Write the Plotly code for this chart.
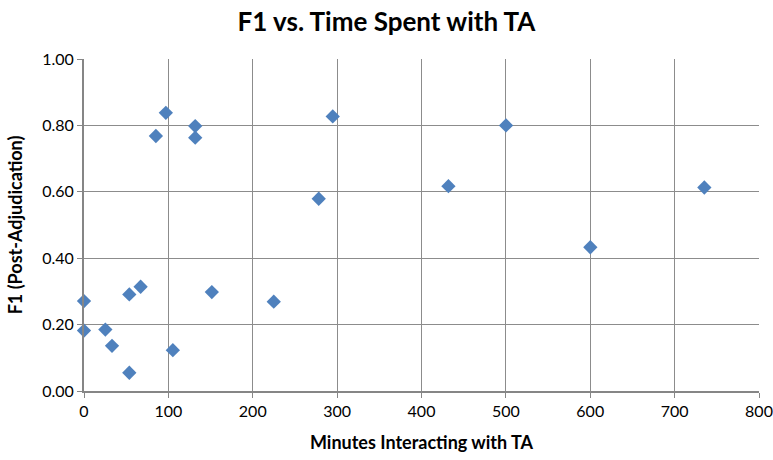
import plotly.graph_objects as go

minutes = [0, 0, 25.3, 33.2, 53.7, 53.7, 67.1, 85.2, 97.0, 105.3, 131.8, 131.8,
           151.5, 224.9, 278.2, 294.8, 431.9, 500.2, 600.1, 735.2]
f1 = [0.271, 0.182, 0.185, 0.136, 0.055, 0.291, 0.314, 0.768, 0.838, 0.123, 0.798, 0.763,
      0.298, 0.269, 0.579, 0.827, 0.617, 0.800, 0.433, 0.613]

x_ticks = [0, 100, 200, 300, 400, 500, 600, 700, 800]
y_ticks = [0.0, 0.2, 0.4, 0.6, 0.8, 1.0]

font_family = "Lato, Carlito, 'Open Sans', sans-serif"

W, H = 773, 460

fig = go.Figure()
fig.add_trace(go.Scatter(
    x=minutes, y=f1, mode="markers",
    marker=dict(symbol="diamond", size=11, color="#4F81BD",
                line=dict(width=0)),
    showlegend=False, cliponaxis=False,
))

fig.update_layout(
    width=W, height=H,
    margin=dict(l=84, r=14, t=59, b=69, autoexpand=False),
    paper_bgcolor="white", plot_bgcolor="white",
    font=dict(family=font_family, size=16, color="#000000"),
    title=dict(text="<b>F1 vs. Time Spent with TA</b>", x=0.5, xanchor="center",
               xref="container", yref="container", y=1 - 22 / H, yanchor="middle",
               font=dict(family=font_family, size=26, color="#000000")),
    xaxis=dict(
        range=[0, 800], tickvals=x_ticks, ticktext=[str(v) for v in x_ticks],
        showgrid=True, gridcolor="#8c8c8c", gridwidth=1,
        showline=True, linecolor="#868686", linewidth=2,
        ticks="outside", ticklen=5, tickcolor="#868686",
        zeroline=False, tickfont=dict(size=16), automargin=False,
        title=dict(text="<b>Minutes Interacting with TA</b>", standoff=17,
                   font=dict(size=18)),
    ),
    yaxis=dict(
        range=[0, 1], tickvals=y_ticks, tickformat=".2f",
        showgrid=True, gridcolor="#8c8c8c", gridwidth=1,
        showline=True, linecolor="#868686", linewidth=2,
        ticks="outside", ticklen=5, tickcolor="#868686",
        zeroline=False, tickfont=dict(size=16), automargin=False,
        title=dict(text="<b>F1 (Post-Adjudication)</b>", standoff=15,
                   font=dict(size=18)),
    ),
)

fig.write_html("out.html",
               config={"displayModeBar": False},
               post_script="document.body.style.margin='0';document.body.style.overflow='hidden';")
